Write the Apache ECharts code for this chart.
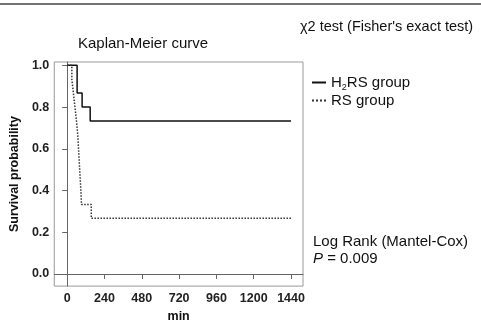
<!DOCTYPE html>
<html><head><meta charset="utf-8">
<script src="https://cdn.jsdelivr.net/npm/echarts@6/dist/echarts.min.js"></script>
<style>html,body{margin:0;padding:0;background:#fff}#c{width:481px;height:328px}</style>
</head><body><div id="c"></div>
<script>
// Data
const groupNames = ['H2RS group', 'RS group'];
const h2rsTimes = [0, 64, 96, 148, 1440];
const h2rsSurv  = [1.0, 0.867, 0.8, 0.733, 0.733];
const rsTimes = [0, 30, 40, 50, 60, 68, 73, 78, 83, 88, 92, 155, 1440];
const rsSurv  = [1.0, 0.933, 0.867, 0.8, 0.733, 0.667, 0.6, 0.533, 0.467, 0.4, 0.333, 0.267, 0.267];
const xTicks = [0, 240, 480, 720, 960, 1200, 1440];
const yTicks = [0, 0.2, 0.4, 0.6, 0.8, 1.0];

const pair = (t, s) => t.map((v, i) => [v, s[i]]);
const F = 'Liberation Sans, Arial, sans-serif';
const chart = echarts.init(document.getElementById('c'), null, {renderer: 'canvas'});
chart.setOption({
  animation: false,
  textStyle: {fontFamily: F},
  title: [
    {text: 'Kaplan-Meier curve', left: 78, top: 36, padding: 0, textStyle: {fontSize: 15, fontWeight: 'normal', color: '#111', fontFamily: F}},
    {text: "\u03c72 test (Fisher's exact test)", left: 300, top: 19, padding: 0, textStyle: {fontSize: 14.5, fontWeight: 'normal', color: '#111', fontFamily: F}}
  ],
  grid: {left: 52, right: 178, top: 62, bottom: 36, show: true, borderColor: '#999', borderWidth: 1},
  legend: {
    orient: 'vertical', left: 311, top: 75, padding: 0, itemWidth: 14, itemHeight: 14, itemGap: 1,
    data: groupNames,
    itemStyle: {opacity: 0},
    textStyle: {fontSize: 15, lineHeight: 15, color: '#111', fontFamily: F,
      rich: {sub: {fontSize: 9, lineHeight: 15, verticalAlign: 'bottom', padding: [0, 0, -2, 0]}}},
    formatter: n => n === 'H2RS group' ? 'H{sub|2}RS group' : n
  },
  xAxis: {
    type: 'value', min: -83, max: 1517,
    name: 'min', nameLocation: 'middle', nameGap: 22,
    nameTextStyle: {fontSize: 12.5, fontWeight: 'bold', color: '#111', fontFamily: F},
    axisLine: {show: true, lineStyle: {color: '#666', width: 1}},
    axisTick: {show: true, customValues: xTicks, length: 5, lineStyle: {color: '#666'}},
    axisLabel: {customValues: xTicks, fontSize: 12.5, fontWeight: 'bold', color: '#222', margin: 6, fontFamily: F,
      formatter: v => String(v)},
    splitLine: {show: false}
  },
  yAxis: {
    type: 'value', min: -0.058, max: 1.016,
    name: 'Survival probability', nameLocation: 'middle', nameGap: 27,
    nameTextStyle: {fontSize: 12.5, fontWeight: 'bold', color: '#111', fontFamily: F},
    axisLine: {show: true, lineStyle: {color: '#666', width: 1}},
    axisTick: {show: true, customValues: yTicks, length: 5, lineStyle: {color: '#666'}},
    axisLabel: {customValues: yTicks, fontSize: 12.5, fontWeight: 'bold', color: '#222', margin: 5, fontFamily: F,
      formatter: v => v.toFixed(1)},
    splitLine: {show: false}
  },
  series: [
    {name: groupNames[0], type: 'line', step: 'end', showSymbol: false, symbol: 'none',
     data: pair(h2rsTimes, h2rsSurv), lineStyle: {color: '#111', width: 1.5}, itemStyle: {color: '#111'}},
    {name: groupNames[1], type: 'line', step: 'end', showSymbol: false, symbol: 'none',
     data: pair(rsTimes, rsSurv), lineStyle: {color: '#333', width: 1.5, type: 'dotted'}, itemStyle: {color: '#333'}}
  ],
  graphic: [
    {type: 'line', shape: {x1: 0, y1: 4, x2: 481, y2: 4}, style: {stroke: '#444', lineWidth: 1.5}},
    {type: 'text', left: 313, top: 234, style: {text: 'Log Rank (Mantel-Cox)', fontSize: 15, fill: '#111', fontFamily: F}},
    {type: 'text', left: 313, top: 251, style: {text: '{i|P} = 0.009', fontSize: 15, fill: '#111', fontFamily: F,
      rich: {i: {fontStyle: 'italic', fontSize: 15, fontFamily: F}}}}
  ]
});
</script></body></html>
